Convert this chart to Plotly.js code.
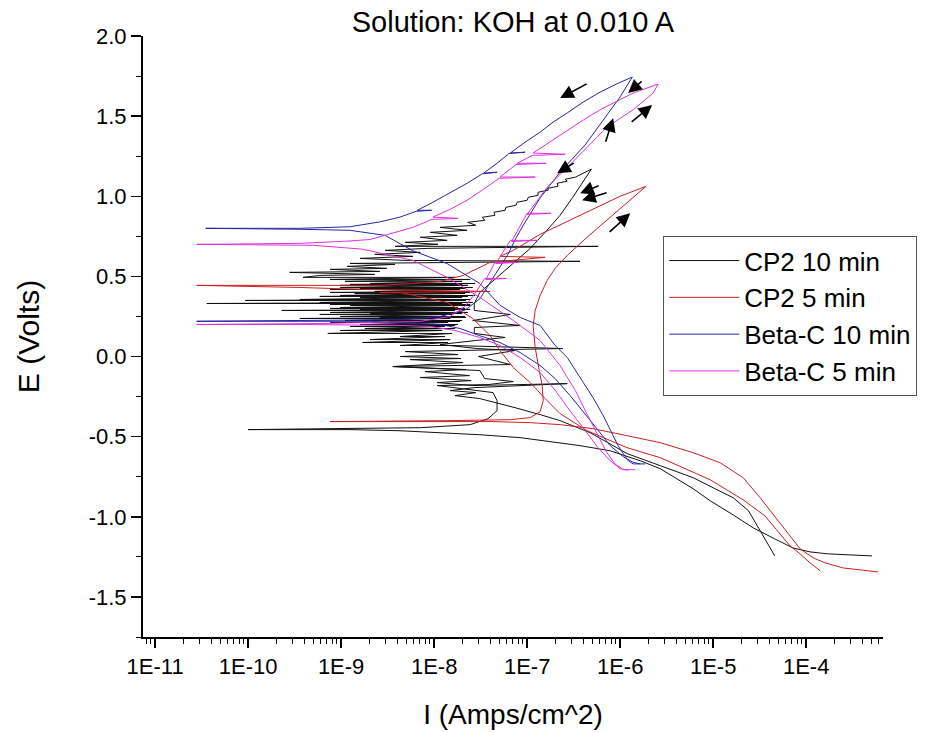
<!DOCTYPE html>
<html><head><meta charset="utf-8">
<script src="https://cdn.plot.ly/plotly-3.0.1.min.js"></script>
<style>body{margin:0;background:#fff}#chart{width:948px;height:732px}</style>
</head><body><div id="chart"></div>
<script>
// ---- data (I in A/cm^2, E in V) ----
const seriesNames = ["CP2 10 min", "CP2 5 min", "Beta-C 10 min", "Beta-C 5 min"];

// CP2 10 min, segment 1: forward cathodic, Ecorr, passive region with spikes, climb to vertex
const cp2_10_fwd_I = [5.1e-4,3.0e-4,1.68e-4,1.1e-4,7.2e-5,4.6e-5,2.7e-5,1.64e-5,9.3e-6,6.1e-6,3.9e-6,2.7e-6,1.64e-6,7.8e-7,3.7e-7,2.26e-7,8.4e-8,3.1e-8,1.16e-8,4.3e-9,1.25e-9,3.6e-10,1.0e-10,
 7.6e-10,7.1e-9,2.44e-8,3.8e-8,4.75e-8,4.75e-8,4.3e-8,1.08e-8,3.8e-8,7.1e-8,3.5e-8,3.1e-8,3.6e-9,3.1e-8,6.6e-8,3.0e-8,7.4e-8,2.9e-8,1.16e-8,2.8e-8,5.8e-8,2.7e-8,2.7e-8,8.4e-8,2.6e-8,6.6e-8,2.7e-8,2.7e-8,
 3.1e-8,4.0e-8,5.5e-8,7.4e-8,1.08e-7,1.56e-7,2.26e-7,3.1e-7,4.0e-7,4.9e-7];
const cp2_10_fwd_E = [-1.244,-1.238,-1.231,-1.219,-1.194,-1.138,-1.069,-0.988,-0.90,-0.825,-0.756,-0.70,-0.65,-0.588,-0.556,-0.538,-0.506,-0.488,-0.475,-0.463,-0.456,-0.456,-0.456,
 -0.45,-0.444,-0.425,-0.388,-0.338,-0.275,-0.225,-0.181,-0.175,-0.156,-0.1375,-0.0875,-0.0625,-0.056,-0.05,0.0,0.0375,0.05,0.075,0.1,0.119,0.144,0.181,0.194,0.225,0.2625,0.2875,0.331,
 0.40,0.456,0.525,0.5875,0.675,0.775,0.881,0.994,1.0875,1.169];
// segment 2: reverse from vertex along the saw-tooth upper edge
const cp2_10_rev_I = [3.3e-7,2.56e-7,2.7e-7,2.1e-7,2.15e-7,1.68e-7,1.68e-7,1.31e-7,1.31e-7,1.03e-7,1.0e-7,7.8e-8,7.6e-8,5.9e-8,5.8e-8,4.4e-8,4.5e-8,3.3e-8,3.5e-8,2.3e-8,2.8e-8,1.16e-8,2.26e-8,9.1e-9,1.77e-8,7.1e-9,1.38e-8,4.9e-9,1.1e-8,3.8e-9,
 5.8e-7,8.6e-9,2.97e-9,7.1e-9,2.3e-9,5.9e-9,1.6e-9,4.75e-9,3.7e-7,4.3e-9,1.25e-9,3.8e-9,1.16e-9,3.1e-9,7.6e-10,2.6e-9,2.8e-10,2.3e-9,5.9e-10];
const cp2_10_rev_E = [1.119,1.106,1.094,1.081,1.0625,1.05,1.0375,1.025,1.006,0.994,0.975,0.9625,0.944,0.931,0.9125,0.90,0.881,0.869,0.85,0.8375,0.819,0.806,0.7875,0.775,0.756,0.744,0.725,0.7125,0.70,0.6875,
 0.6875,0.675,0.6625,0.65,0.6375,0.625,0.6125,0.60,0.594,0.5875,0.581,0.575,0.5625,0.55,0.544,0.531,0.525,0.5125,0.506];
// segment 3: noisy zero-crossing band (left / right extent of each swing)
const cp2_10_noise_E = [0.494,0.481,0.469,0.456,0.45,0.444,0.431,0.425,0.419,0.406,0.40,0.394,0.381,0.375,0.369,0.356,0.35,0.3375,0.331,0.325,0.319,0.306,0.30,0.294,0.2875,0.275,0.269,0.2625,0.25,0.244,0.2375,0.225,0.219,0.2125,0.20,0.194,0.1875,0.175,0.1625,0.144,0.125,0.106,0.0875,0.069];
const cp2_10_noise_L = [3.9e-10,7.6e-10,1.1e-9,2.05e-9,1.25e-9,9.8e-10,9.8e-10,1.6e-9,7.6e-10,2.3e-9,7.6e-10,1.4e-9,9.8e-10,5.9e-10,1.6e-9,3.6e-10,9.3e-11,5.9e-10,3.6e-11,7.6e-10,1.25e-9,9.8e-10,7.6e-10,1.6e-9,2.3e-10,7.6e-10,2.05e-9,5.9e-10,9.8e-10,2.6e-9,3.6e-10,1.1e-9,3.3e-9,7.6e-10,1.6e-9,3.8e-9,1.25e-9,1.8e-9,9.8e-10,7.2e-10,4.3e-9,2.05e-9,1.7e-9,4.3e-9];
const cp2_10_noise_R = [1.68e-8,2.44e-8,2.0e-8,2.76e-8,2.0e-8,2.3e-8,2.6e-8,2.15e-8,1.9e-8,2.76e-8,2.44e-8,2.15e-8,2.76e-8,2.3e-8,2.0e-8,2.44e-8,2.2e-8,2.6e-8,2.0e-8,2.44e-8,2.44e-8,1.8e-8,2.15e-8,2.44e-8,1.68e-8,2.3e-8,2.0e-8,1.56e-8,2.15e-8,2.2e-8,1.49e-8,2.0e-8,1.9e-8,1.41e-8,1.8e-8,1.68e-8,1.31e-8,1.68e-8,1.22e-8,1.56e-8,1.31e-8,1.49e-8,1.41e-8,1.56e-8];
// segment 4: lower noisy edge and reverse cathodic branch
const cp2_10_tail_I = [2.4e-7,1.68e-8,4.9e-9,1.81e-8,4.3e-9,1.95e-8,5.5e-9,2.05e-8,3.6e-9,2.2e-8,8.0e-9,2.4e-8,7.1e-9,2.5e-8,1.08e-8,2.6e-8,2.7e-7,2.7e-8,1.49e-8,2.8e-8,1.68e-8,
 3.1e-8,5.1e-8,7.4e-8,1.38e-7,2.26e-7,4.75e-7,1.19e-6,2.7e-6,6.1e-6,1.05e-5,1.64e-5,2.4e-5,3.2e-5,3.9e-5,4.6e-5];
const cp2_10_tail_E = [0.05,0.0375,0.031,0.0125,0.0,-0.0125,-0.019,-0.0375,-0.0625,-0.081,-0.094,-0.119,-0.131,-0.15,-0.1625,-0.181,-0.169,-0.194,-0.2125,-0.225,-0.244,
 -0.2625,-0.294,-0.319,-0.3625,-0.40,-0.475,-0.606,-0.681,-0.756,-0.825,-0.881,-0.9625,-1.0875,-1.169,-1.244];

const cp2_5_I = [5.9e-4,3.8e-4,2.5e-4,1.6e-4,1.19e-4,8.6e-5,6.7e-5,4.9e-5,3.9e-5,3.2e-5,2.1e-5,1.19e-5,6.1e-6,2.7e-6,1.19e-6,5.1e-7,2.26e-7,1.08e-7,4.3e-8,7.1e-9,7.6e-10,
 1.49e-8,6.6e-8,1.08e-7,1.38e-7,1.49e-7,1.45e-7,1.35e-7,1.22e-7,1.16e-7,1.22e-7,1.38e-7,1.64e-7,2.0e-7,2.7e-7,4.4e-7,7.8e-7,1.28e-6,1.9e-6,
 1.0e-6,4.75e-7,2.26e-7,1.38e-7,7.1e-8,5.1e-8,1.56e-7,4.0e-8,2.05e-8,1.16e-8,5.9e-9,2.6e-9,7.6e-10,1.05e-10,2.8e-11,
 3.6e-10,1.6e-9,4.0e-8,2.6e-9,4.3e-9,1.38e-8,2.6e-8,4.0e-8,5.1e-8,7.1e-8,1.08e-7,1.56e-7,2.26e-7,4.4e-7,1.19e-6,2.7e-6,9.3e-6,2.1e-5,3.6e-5,4.9e-5,6.7e-5,8.6e-5,1.1e-4,1.42e-4];
const cp2_5_E = [-1.344,-1.331,-1.319,-1.2875,-1.256,-1.20,-1.119,-1.025,-0.95,-0.881,-0.756,-0.6625,-0.60,-0.5375,-0.494,-0.45,-0.425,-0.4125,-0.406,-0.406,-0.406,
 -0.40,-0.394,-0.381,-0.344,-0.275,-0.181,-0.0875,0.056,0.194,0.2875,0.381,0.475,0.55,0.631,0.744,0.869,0.975,1.0625,
 1.0,0.9125,0.825,0.7625,0.6625,0.625,0.619,0.5875,0.506,0.469,0.456,0.444,0.444,0.444,0.444,
 0.431,0.419,0.406,0.40,0.40,0.3375,0.2375,0.131,0.0375,-0.069,-0.1625,-0.2625,-0.356,-0.4625,-0.569,-0.631,-0.769,-0.894,-0.994,-1.0875,-1.181,-1.231,-1.2875,-1.3375];

const betaC_10_I = [1.64e-6,1.38e-6,1.08e-6,7.8e-7,5.8e-7,4.2e-7,2.9e-7,2.0e-7,1.38e-7,8.4e-8,5.1e-8,3.1e-8,1.9e-8,1.16e-8,5.5e-9,2.05e-9,3.6e-10,2.8e-11,
 3.6e-10,4.3e-9,1.16e-8,2.15e-8,3.1e-8,4.3e-8,6.25e-8,7.6e-8,9.1e-8,1.38e-7,2.26e-7,4.2e-7,6.9e-7,1.0e-6,1.35e-6,
 9.1e-7,6.1e-7,4.0e-7,2.7e-7,1.9e-7,1.38e-7,9.5e-8,6.6e-8,9.5e-8,6.4e-8,4.75e-8,3.4e-8,4.75e-8,3.3e-8,2.26e-8,1.49e-8,9.7e-9,6.6e-9,9.4e-9,6.4e-9,4.3e-9,2.6e-9,1.25e-9,3.6e-10,3.5e-11,
 3.6e-10,1.25e-9,2.97e-9,5.9e-9,1.38e-8,3.1e-8,5.1e-8,8.4e-8,1.38e-7,2.0e-7,2.7e-7,3.7e-7,5.1e-7,6.6e-7,7.8e-7,9.5e-7,1.08e-6,1.22e-6,1.38e-6,1.86e-6];
const betaC_10_E = [-0.67,-0.66,-0.625,-0.556,-0.46,-0.356,-0.244,-0.1375,-0.056,0.025,0.0875,0.13,0.175,0.20,0.21,0.22,0.22,0.22,
 0.225,0.23,0.25,0.29,0.36,0.49,0.64,0.74,0.82,0.99,1.15,1.32,1.49,1.62,1.744,
 1.70,1.65,1.5875,1.52,1.4625,1.40,1.3375,1.27,1.275,1.267,1.206,1.144,1.15,1.14,1.081,1.02,0.9625,0.9125,0.9125,0.906,0.87,0.84,0.81,0.80,0.80,
 0.794,0.7875,0.756,0.66,0.58,0.456,0.32,0.244,0.194,0.069,-0.006,-0.13,-0.256,-0.37,-0.46,-0.556,-0.606,-0.65,-0.67,-0.67];

const betaC_5_I = [1.22e-6,1.0e-6,7.8e-7,5.8e-7,4.2e-7,2.9e-7,2.0e-7,1.38e-7,8.4e-8,5.1e-8,3.1e-8,1.68e-8,9.1e-9,4.3e-9,3.6e-10,2.8e-11,
 5.9e-10,7.1e-9,1.49e-8,2.15e-8,2.76e-8,3.5e-8,6.0e-8,3.6e-8,4.5e-8,8.0e-8,4.6e-8,6.6e-8,1.3e-7,6.8e-8,1.0e-7,1.8e-7,1.0e-7,1.64e-7,2.7e-7,4.4e-7,7.2e-7,1.38e-6,2.26e-6,2.56e-6,
 1.38e-6,9.3e-7,6.1e-7,4.0e-7,2.7e-7,1.77e-7,1.16e-7,2.56e-7,1.14e-7,7.8e-8,1.6e-7,7.6e-8,5.1e-8,1.22e-7,5.0e-8,3.4e-8,2.26e-8,1.49e-8,9.7e-9,1.81e-8,9.5e-9,5.9e-9,3.6e-9,2.05e-9,1.16e-9,3.6e-10,2.8e-11,
 5.0e-10,1.7e-9,5.9e-9,1.38e-8,3.1e-8,7.1e-8,1.38e-7,2.26e-7,3.3e-7,4.5e-7,5.8e-7,7.2e-7,8.8e-7,1.08e-6,1.45e-6];
const betaC_5_E = [-0.71,-0.70,-0.65,-0.57,-0.46,-0.34,-0.21,-0.10,-0.006,0.069,0.119,0.1625,0.1875,0.194,0.20,0.20,
 0.206,0.219,0.25,0.3125,0.394,0.4875,0.4875,0.48,0.5875,0.5875,0.58,0.725,0.725,0.718,0.894,0.894,0.887,1.056,1.18,1.306,1.431,1.54,1.644,1.70,
 1.644,1.594,1.54,1.475,1.41,1.344,1.27,1.262,1.255,1.206,1.206,1.198,1.12,1.12,1.112,1.044,0.975,0.919,0.87,0.862,0.856,0.806,0.77,0.73,0.72,0.706,0.70,
 0.694,0.67,0.60,0.494,0.369,0.225,0.10,-0.056,-0.2125,-0.37,-0.494,-0.60,-0.67,-0.706,-0.706];

// axis ticks
const xTickVals = [1e-11,1e-10,1e-9,1e-8,1e-7,1e-6,1e-5,1e-4];
const xTickText = ["1E-11","1E-10","1E-9","1E-8","1E-7","1E-6","1E-5","1E-4"];
const yTickVals = [-1.5,-1.0,-0.5,0.0,0.5,1.0,1.5,2.0];
const yTickText = ["-1.5","-1.0","-0.5","0.0","0.5","1.0","1.5","2.0"];
const yMinorVals = [-1.75,-1.25,-0.75,-0.25,0.25,0.75,1.25,1.75];
const minorMantissas = [2,3,4,5,6,7,8,9];

// ---- assemble ----
const noiseI = [], noiseE = [];
cp2_10_noise_E.forEach((e, k) => { noiseI.push(cp2_10_noise_L[k], cp2_10_noise_R[k]); noiseE.push(e, e); });
const cp2_10_I = [].concat(cp2_10_fwd_I, cp2_10_rev_I, noiseI, cp2_10_tail_I);
const cp2_10_E = [].concat(cp2_10_fwd_E, cp2_10_rev_E, noiseE, cp2_10_tail_E);

const xMinorVals = [];
for (let d = -12; d <= -4; d++) minorMantissas.forEach(m => xMinorVals.push(m * Math.pow(10, d)));

const colors = ["#111111", "#cc2020", "#2626a6", "#dd33dd"];
const xs = [cp2_10_I, cp2_5_I, betaC_10_I, betaC_5_I];
const ys = [cp2_10_E, cp2_5_E, betaC_10_E, betaC_5_E];

const traces = seriesNames.map((n, i) => ({
  x: xs[i], y: ys[i], name: n, type: "scatter", mode: "lines",
  line: {color: colors[i], width: 1}
}));

const FONT = "Liberation Sans, Arial, sans-serif";
function arrow(logx, y, ax, ay) {
  return {x: logx, y: y, xref: "x", yref: "y", ax: ax, ay: ay, showarrow: true,
    arrowhead: 2, arrowsize: 1.7, arrowwidth: 1.6, arrowcolor: "#000", text: ""};
}
const annotations = [
  arrow(-6.645, 1.6125, 28, -15),
  arrow(-5.914, 1.644, 15, -13),
  arrow(-6.075, 1.4875, -8, 25),
  arrow(-5.656, 1.569, -22, 18),
  arrow(-6.677, 1.144, 18, -11),
  arrow(-6.43, 1.019, 20, -8),
  arrow(-6.409, 0.975, 26, -8),
  arrow(-5.892, 0.894, -22, 20)
];

const layout = {
  width: 948, height: 732,
  margin: {l: 143, r: 65, t: 36, b: 95},
  paper_bgcolor: "#fff", plot_bgcolor: "#fff",
  font: {family: FONT, color: "#000"},
  title: {text: "Solution: KOH at 0.010 A", font: {size: 29, color: "#000"},
          xref: "paper", x: 0.5, xanchor: "center", yref: "container", y: 0.97, yanchor: "middle"},
  showlegend: true,
  legend: {x: 0.703, y: 0.667, xanchor: "left", yanchor: "top", bgcolor: "#fff",
           bordercolor: "#555", borderwidth: 1, font: {size: 26, color: "#000"},
           itemwidth: 70, tracegroupgap: 0},
  xaxis: {type: "log", range: [-11.13, -3.174], showline: true, linecolor: "#000", linewidth: 2,
          ticks: "outside", ticklen: 9, tickwidth: 1.5, tickcolor: "#000",
          tickmode: "array", tickvals: xTickVals, ticktext: xTickText,
          minor: {tickmode: "array", tickvals: xMinorVals, ticks: "outside", ticklen: 5, tickwidth: 1, tickcolor: "#000"},
          tickfont: {size: 22, color: "#000"}, showgrid: false, zeroline: false,
          title: {text: "I (Amps/cm^2)", font: {size: 28, color: "#000"}, standoff: 26}},
  yaxis: {range: [-1.75, 2.0], showline: true, linecolor: "#000", linewidth: 2,
          ticks: "outside", ticklen: 10, tickwidth: 1.5, tickcolor: "#000",
          tickmode: "array", tickvals: yTickVals, ticktext: yTickText,
          minor: {tickmode: "array", tickvals: yMinorVals, ticks: "outside", ticklen: 5, tickwidth: 1, tickcolor: "#000"},
          tickfont: {size: 22, color: "#000"}, showgrid: false, zeroline: false,
          title: {text: "E (Volts)", font: {size: 30, color: "#000"}, standoff: 40}},
  annotations: annotations
};

Plotly.newPlot("chart", traces, layout, {displayModeBar: false, staticPlot: true});
</script>
</body></html>
